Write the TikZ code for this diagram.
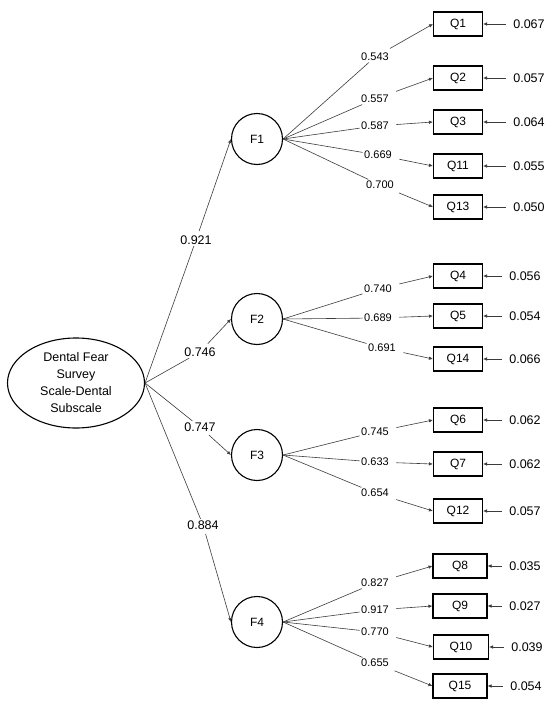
\documentclass[tikz,border=0pt]{standalone}
\usepackage{fontspec}
\setmainfont{Liberation Sans}
\usetikzlibrary{positioning,shapes.geometric,arrows.meta}
\definecolor{pathgray}{HTML}{3C3C3C}

\tikzset{
  factor/.style={draw, circle, line width=1.1pt, minimum size=51pt, inner sep=0pt,
                 font=\fontsize{12}{14}\selectfont},
  item/.style={draw, rectangle, line width=1.1pt, minimum width=49pt, minimum height=24pt,
               inner sep=0pt, font=\fontsize{12}{14}\selectfont},
  loadlab/.style={inner sep=1.5pt, font=\fontsize{11}{13}\selectfont},
  toplab/.style={inner sep=1.5pt, font=\fontsize{12.5}{14}\selectfont},
  errlab/.style={inner sep=1.5pt, font=\fontsize{12.5}{14}\selectfont},
  path/.style={pathgray, line width=0.6pt},
  tip/.style={pathgray, line width=0.6pt, -{Latex[length=4pt,width=3.5pt]}},
}

\begin{document}
\begin{tikzpicture}[x=1pt, y=-1pt]
  \useasboundingbox[fill=white] (0,0) rectangle (550,704);

  % Second-order factor
  \node[draw, ellipse, line width=1.1pt, minimum width=137pt, minimum height=90pt,
        inner sep=0pt, align=center, font=\fontsize{12.5}{17}\selectfont]
        (dfs) at (76,383) {Dental Fear\\Survey\\Scale-Dental\\Subscale};

  % First-order factors
  \node[factor] (F1) at (257,139) {F1};
  \node[factor] (F2) at (257,319) {F2};
  \node[factor] (F3) at (257,455) {F3};
  \node[factor] (F4) at (257,622) {F4};

  % Items of F1
  \node[item] (Q1)  at (458,24)  {Q1};
  \node[item] (Q2)  at (458,78)  {Q2};
  \node[item] (Q3)  at (458,122) {Q3};
  \node[item] (Q11) at (458,166) {Q11};
  \node[item] (Q13) at (458,207) {Q13};

  % Items of F2
  \node[item] (Q4)  at (458,276) {Q4};
  \node[item] (Q5)  at (458,316) {Q5};
  \node[item] (Q14) at (458,359) {Q14};

  % Items of F3
  \node[item] (Q6)  at (458,420) {Q6};
  \node[item] (Q7)  at (458,464) {Q7};
  \node[item] (Q12) at (458,511) {Q12};

  % Items of F4 (slightly wider boxes)
  \node[item, minimum width=54pt] (Q8)  at (460,566) {Q8};
  \node[item, minimum width=54pt] (Q9)  at (460,606) {Q9};
  \node[item, minimum width=55pt] (Q10) at (461,647) {Q10};
  \node[item, minimum width=54pt] (Q15) at (460,686) {Q15};

  % Second-order loadings
  \node[toplab] (g1) at (196,240) {0.921};
  \node[toplab] (g2) at (200,352) {0.746};
  \node[toplab] (g3) at (200,427) {0.747};
  \node[toplab] (g4) at (203,525) {0.884};

  \foreach \g/\f in {g1/F1, g2/F2, g3/F3, g4/F4} {
    \draw[path] (dfs.east) -- (\g);
    \draw[tip, shorten <=3pt] (\g) -- (\f.west);
  }

  % First-order loadings
  \node[loadlab] (l1)  at (375,57)  {0.543};
  \node[loadlab] (l2)  at (375,99)  {0.557};
  \node[loadlab] (l3)  at (375,126) {0.587};
  \node[loadlab] (l11) at (378,155) {0.669};
  \node[loadlab] (l13) at (380,185) {0.700};

  \node[loadlab] (l4)  at (378,289) {0.740};
  \node[loadlab] (l5)  at (378,318) {0.689};
  \node[loadlab] (l14) at (382,348) {0.691};

  \node[loadlab] (l6)  at (375,432) {0.745};
  \node[loadlab] (l7)  at (375,462) {0.633};
  \node[loadlab] (l12) at (375,493) {0.654};

  \node[loadlab] (l8)  at (375,583) {0.827};
  \node[loadlab] (l9)  at (375,610) {0.917};
  \node[loadlab] (l10) at (375,632) {0.770};
  \node[loadlab] (l15) at (375,663) {0.655};

  \foreach \f/\n in {F1/1, F1/2, F1/3, F1/11, F1/13,
                     F2/4, F2/5, F2/14,
                     F3/6, F3/7, F3/12,
                     F4/8, F4/9, F4/10, F4/15} {
    \draw[path] (\f.east) -- (l\n);
    \draw[tip, shorten <=6pt] (l\n) -- (Q\n.west);
  }

  % Error variances
  \node[errlab] (e1)  at (529,24)  {0.067};
  \node[errlab] (e2)  at (529,78)  {0.057};
  \node[errlab] (e3)  at (529,122) {0.064};
  \node[errlab] (e11) at (529,166) {0.055};
  \node[errlab] (e13) at (529,207) {0.050};
  \node[errlab] (e4)  at (525,276) {0.056};
  \node[errlab] (e5)  at (525,316) {0.054};
  \node[errlab] (e14) at (525,359) {0.066};
  \node[errlab] (e6)  at (525,420) {0.062};
  \node[errlab] (e7)  at (525,464) {0.062};
  \node[errlab] (e12) at (525,511) {0.057};
  \node[errlab] (e8)  at (525,566) {0.035};
  \node[errlab] (e9)  at (525,606) {0.027};
  \node[errlab] (e10) at (527,647) {0.039};
  \node[errlab] (e15) at (526,686) {0.054};

  \foreach \n in {1,2,3,11,13,4,5,14,6,7,12,8,9,10,15}
    \draw[tip, shorten <=6pt] (e\n) -- (Q\n.east);
\end{tikzpicture}
\end{document}
